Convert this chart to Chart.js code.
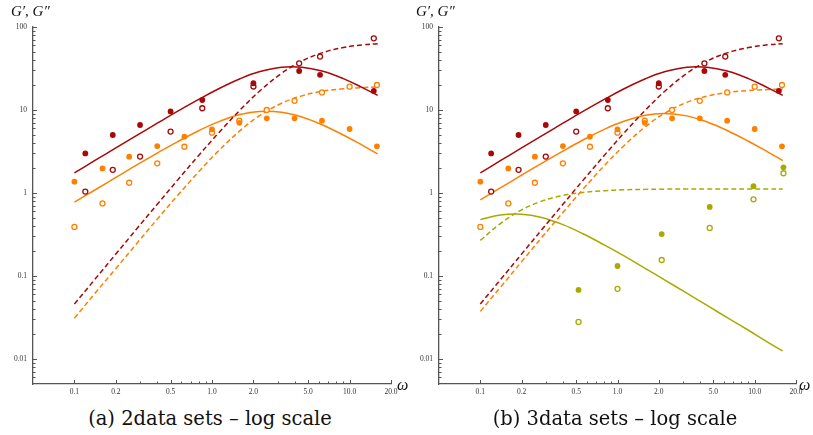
<!DOCTYPE html>
<html><head><meta charset="utf-8">
<script src="https://cdn.jsdelivr.net/npm/chart.js@4.4.0/dist/chart.umd.min.js"></script>
<style>
html,body{margin:0;padding:0;background:#fff;}
body{width:813px;height:435px;position:relative;overflow:hidden;}
.pane{position:absolute;top:0;height:400px;}
#wa{left:0;width:405px;}
#wb{left:405px;width:408px;}
.ylab{position:absolute;top:3px;font:italic 15px "Liberation Serif",serif;color:#111;white-space:nowrap;}
.wlab{position:absolute;top:376px;font:italic 16px "Liberation Serif",serif;color:#111;}
.cap{position:absolute;top:408px;width:420px;text-align:center;font:19.5px "DejaVu Serif",serif;line-height:22px;color:#111;white-space:nowrap;}
</style></head>
<body>
<div class="pane" id="wa"><canvas id="ca" width="405" height="400"></canvas></div>
<div class="pane" id="wb"><canvas id="cb" width="408" height="400"></canvas></div>
<div class="ylab" style="left:11px">G′, G″</div>
<div class="ylab" style="left:416px">G′, G″</div>
<div class="wlab" style="left:397px">ω</div>
<div class="wlab" style="left:799px">ω</div>
<div class="cap" style="left:0px">(a) 2data sets – log scale</div>
<div class="cap" style="left:405px">(b) 3data sets – log scale</div>
<script>
// ---- data ----
const redOmega   = [0.12, 0.19, 0.30, 0.50, 0.85, 2.0, 4.3, 6.1, 15];
const redGpp     = [3.0, 5.0, 6.6, 9.6, 13.2, 21, 29.5, 26.5, 17];     // filled
const redGp      = [1.04, 1.9, 2.75, 5.5, 10.5, 19.2, 36.5, 44, 73];   // open

const orangeOmega = [0.1, 0.16, 0.25, 0.40, 0.63, 1.0, 1.58, 2.5, 3.98, 6.3, 10, 15.8];
const orangeGpp   = [1.37, 1.98, 2.74, 3.68, 4.77, 5.85, 7.0, 7.94, 7.94, 7.43, 5.9, 3.65];
const orangeGp    = [0.39, 0.75, 1.33, 2.28, 3.61, 5.33, 7.43, 10.0, 12.9, 16.3, 19.1, 20.0];

const oliveOmega = [0.52, 1.0, 2.1, 4.7, 9.8, 16.2];
const oliveGpp   = [0.068, 0.132, 0.32, 0.68, 1.21, 2.04];
const oliveGp    = [0.028, 0.07, 0.156, 0.38, 0.84, 1.73];

// fitted curves
const curveOmega = [0.1,0.14,0.2,0.28,0.4,0.56,0.8,1.1,1.6,2.2,3.2,4.5,6.3,9,12.5,16];
const redFitGpp  = [1.75,2.45,3.50,4.88,6.93,9.61,13.4,17.8,23.8,28.9,32.8,32.8,29.5,23.9,18.5,15.0];
const redFitGp   = [0.046,0.090,0.184,0.360,0.730,1.42,2.83,5.15,10.0,16.7,27.6,38.9,48.8,56.5,61.0,63.0];
const orangeFitGppA = [0.775,1.08,1.54,2.15,3.03,4.14,5.63,7.15,8.81,9.62,9.41,8.24,6.65,5.00,3.73,2.96];
const orangeFitGpA  = [0.031,0.061,0.123,0.240,0.484,0.927,1.80,3.15,5.64,8.47,12.05,14.8,16.8,18.0,18.65,18.9];
const orangeFitGppB = [0.826,1.15,1.64,2.28,3.20,4.35,5.85,7.28,8.66,9.10,8.50,7.18,5.67,4.20,3.11,2.46];
const orangeFitGpB  = [0.0375,0.073,0.149,0.290,0.582,1.11,2.13,3.64,6.30,9.10,12.36,14.7,16.2,17.2,17.65,17.86];
const oliveFitGpp = [0.478,0.544,0.556,0.507,0.416,0.323,0.237,0.177,0.123,0.090,0.0621,0.0442,0.0316,0.0222,0.0159,0.0125];
const oliveFitGp  = [0.269,0.428,0.625,0.798,0.935,1.017,1.067,1.091,1.106,1.113,1.117,1.118,1.119,1.120,1.120,1.120];

const xTickValues = [0.1, 0.2, 0.5, 1, 2, 5, 10, 20];
const xTickLabels = ['0.1','0.2','0.5','1.0','2.0','5.0','10.0','20.0'];
const xMinorTicks = [0.3,0.4,0.6,0.7,0.8,0.9,3,4,6,7,8,9];
const yTickValues = [0.01, 0.1, 1, 10, 100];
const yTickLabels = ['0.01','0.1','1','10','100'];
const yMinorTicks = [0.006,0.007,0.008,0.009,0.02,0.03,0.04,0.05,0.06,0.07,0.08,0.09,
  0.2,0.3,0.4,0.5,0.6,0.7,0.8,0.9,2,3,4,5,6,7,8,9,20,30,40,50,60,70,80,90];

const RED = '#a80808', ORANGE = '#ff8000', OLIVE = '#a8aa00';

function pts(xs, ys){ return xs.map((x,i)=>({x:x, y:ys[i]})); }
function filled(xs, ys, c){ return {data:pts(xs,ys), showLine:false, pointRadius:2.9, pointHoverRadius:2.9,
  pointBackgroundColor:c, pointBorderColor:c, pointBorderWidth:0, order:0}; }
function open(xs, ys, c){ return {data:pts(xs,ys), showLine:false, pointRadius:2.5, pointHoverRadius:2.5,
  pointBackgroundColor:'#fff', pointBorderColor:c, pointBorderWidth:1.3, order:0}; }
function curve(ys, c, dashed){ return {data:pts(curveOmega, ys), showLine:true, pointRadius:0, borderColor:c,
  borderWidth:1.5, borderDash: dashed ? [5,3] : [], tension:0.4, fill:false, order:1}; }

const tickMarks = {
  id:'tickMarks',
  afterDraw(chart){
    const ctx = chart.ctx, xs = chart.scales.x, ys = chart.scales.y, a = chart.chartArea;
    ctx.save(); ctx.strokeStyle = '#555'; ctx.lineWidth = 1;
    const vx = (v,len)=>{ const p = Math.round(xs.getPixelForValue(v))+0.5; ctx.beginPath(); ctx.moveTo(p,a.bottom); ctx.lineTo(p,a.bottom-len); ctx.stroke(); };
    const vy = (v,len)=>{ const p = Math.round(ys.getPixelForValue(v))+0.5; ctx.beginPath(); ctx.moveTo(a.left,p); ctx.lineTo(a.left+len,p); ctx.stroke(); };
    xTickValues.forEach(v=>vx(v,4)); xMinorTicks.forEach(v=>vx(v,2.5));
    yTickValues.forEach(v=>vy(v,4)); yMinorTicks.forEach(v=>vy(v,2.5));
    ctx.restore();
  }
};

function makeChart(id, datasets, yWidth, padRight){
  return new Chart(document.getElementById(id), {
    type:'scatter',
    data:{datasets:datasets},
    options:{
      responsive:false, animation:false, devicePixelRatio:1,
      layout:{padding:{top:27, right:padRight, left:0, bottom:0}},
      plugins:{legend:{display:false}, tooltip:{enabled:false}},
      scales:{
        x:{type:'logarithmic', min:0.05, max:20, position:'bottom',
          grid:{display:false, drawTicks:false}, border:{display:true, color:'#555', width:1.3},
          ticks:{autoSkip:false, maxRotation:0, padding:4, color:'#333',
            font:{family:'Liberation Serif', size:7.5}, callback:(v,i)=>xTickLabels[i]},
          afterBuildTicks:s=>{ s.ticks = xTickValues.map(v=>({value:v})); },
          afterFit:s=>{ s.height = 16; }},
        y:{type:'logarithmic', min:0.005, max:100, position:'left',
          grid:{display:false, drawTicks:false}, border:{display:true, color:'#555', width:1.3},
          ticks:{autoSkip:false, padding:6, color:'#333',
            font:{family:'Liberation Serif', size:7.5}, callback:(v,i)=>yTickLabels[i]},
          afterBuildTicks:s=>{ s.ticks = yTickValues.map(v=>({value:v})); },
          afterFit:s=>{ s.width = yWidth; }}
      }
    },
    plugins:[tickMarks]
  });
}

makeChart('ca', [
  filled(redOmega, redGpp, RED), open(redOmega, redGp, RED),
  filled(orangeOmega, orangeGpp, ORANGE), open(orangeOmega, orangeGp, ORANGE),
  curve(redFitGpp, RED, false), curve(redFitGp, RED, true),
  curve(orangeFitGppA, ORANGE, false), curve(orangeFitGpA, ORANGE, true)
], 33, 14);

makeChart('cb', [
  filled(redOmega, redGpp, RED), open(redOmega, redGp, RED),
  filled(orangeOmega, orangeGpp, ORANGE), open(orangeOmega, orangeGp, ORANGE),
  filled(oliveOmega, oliveGpp, OLIVE), open(oliveOmega, oliveGp, OLIVE),
  curve(redFitGpp, RED, false), curve(redFitGp, RED, true),
  curve(orangeFitGppB, ORANGE, false), curve(orangeFitGpB, ORANGE, true),
  curve(oliveFitGpp, OLIVE, false), curve(oliveFitGp, OLIVE, true)
], 34, 17);
</script>
</body></html>
